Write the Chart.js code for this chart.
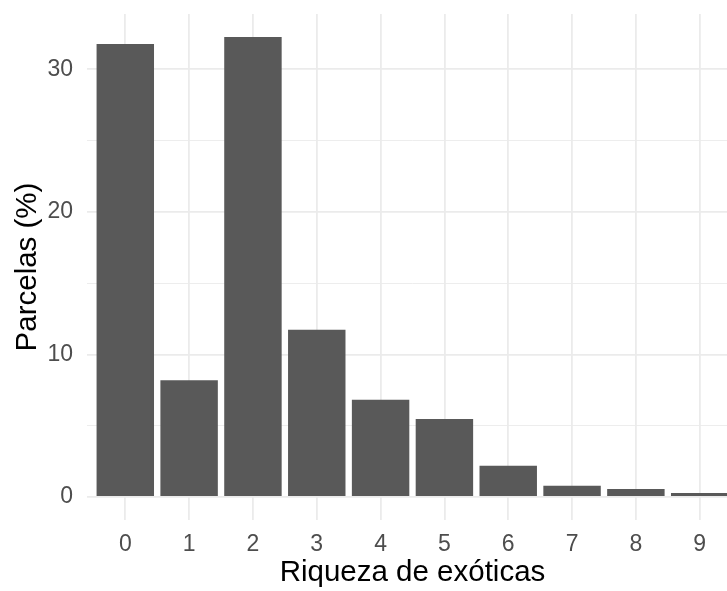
<!DOCTYPE html>
<html>
<head>
<meta charset="utf-8">
<script src="https://cdn.jsdelivr.net/npm/chart.js@4"></script>
<style>
  html, body { margin: 0; padding: 0; background: #ffffff; overflow: hidden; width: 727px; height: 591px; }
  #wrap { width: 760px; height: 591px; }
</style>
</head>
<body>
<div id="wrap"><canvas id="c" width="760" height="591"></canvas></div>
<script>
const categories = ["0", "1", "2", "3", "4", "5", "6", "7", "8", "9"];
const percentValues = [31.77, 8.18, 32.26, 11.73, 6.82, 5.47, 2.19, 0.79, 0.56, 0.28];
const yTickValues = [0, 5, 10, 15, 20, 25, 30];
const yLabelledTicks = [0, 10, 20, 30];
const xTitle = "Riqueza de exóticas";
const yTitle = "Parcelas (%)";

const dataMax = Math.max(...percentValues);
const FONT = "'Liberation Sans', Arial, sans-serif";

new Chart(document.getElementById('c'), {
  type: 'bar',
  data: {
    datasets: [{
      data: percentValues.map((v, i) => ({ x: i, y: v })),
      backgroundColor: '#595959',
      borderWidth: 0,
      barPercentage: 0.9,
      categoryPercentage: 1.0
    }]
  },
  options: {
    responsive: false,
    animation: false,
    layout: { padding: { left: 0, top: 0, right: 22, bottom: 0 } },
    plugins: { legend: { display: false }, tooltip: { enabled: false } },
    scales: {
      x: {
        type: 'linear',
        offset: false,
        min: -0.6,
        max: categories.length - 1 + 0.6,
        afterBuildTicks: (s) => { s.ticks = categories.map((c, i) => ({ value: i })); },
        afterFit: (s) => { s.height = 71; },
        ticks: {
          callback: (v) => categories[v],
          color: '#4d4d4d',
          font: { family: FONT, size: 23 },
          padding: 11,
          maxRotation: 0,
          autoSkip: false
        },
        grid: { color: '#ebebeb', lineWidth: 1.8, drawTicks: false, offset: false },
        border: { display: false },
        title: {
          display: true,
          text: xTitle,
          color: '#000000',
          font: { family: FONT, size: 29.5 },
          padding: { top: 0, bottom: 0 }
        }
      },
      y: {
        min: -dataMax * 0.05,
        max: dataMax * 1.05,
        afterBuildTicks: (s) => { s.ticks = yTickValues.map(v => ({ value: v })); },
        afterFit: (s) => { s.width = 87; s.paddingTop = 14; },
        ticks: {
          callback: (v) => yLabelledTicks.includes(v) ? String(v) : '',
          color: '#4d4d4d',
          font: { family: FONT, size: 23 },
          padding: 14
        },
        grid: {
          color: '#ebebeb',
          lineWidth: (ctx) => (ctx.tick && yLabelledTicks.includes(ctx.tick.value)) ? 1.8 : 0.9,
          drawTicks: false
        },
        border: { display: false },
        title: {
          display: true,
          text: yTitle,
          color: '#000000',
          font: { family: FONT, size: 29.5 },
          padding: { top: 10, bottom: 0 }
        }
      }
    }
  }
});
</script>
</body>
</html>
